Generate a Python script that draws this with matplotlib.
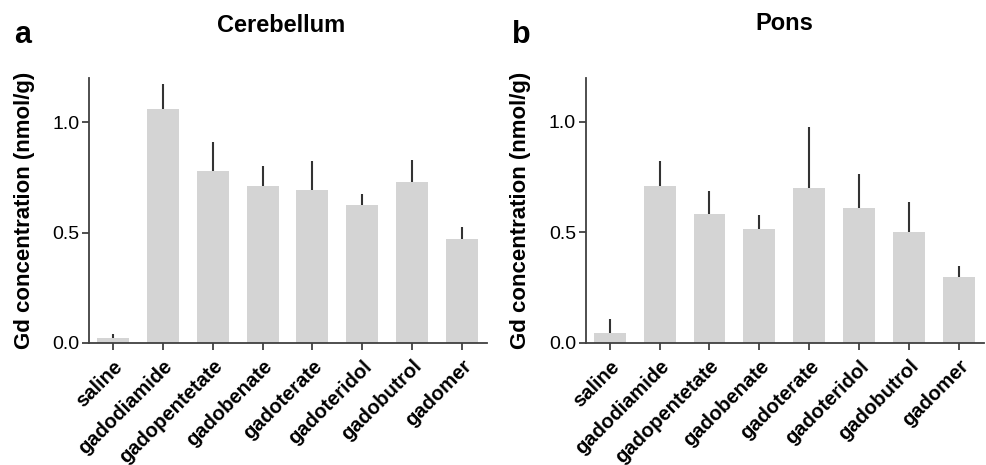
import matplotlib.pyplot as plt
import numpy as np

agents = ['saline', 'gadodiamide', 'gadopentetate', 'gadobenate',
          'gadoterate', 'gadoteridol', 'gadobutrol', 'gadomer']

# Gd concentration (nmol/g), mean and upper SD
cereb_mean = [0.020, 1.061, 0.780, 0.709, 0.695, 0.625, 0.729, 0.471]
cereb_sd = [0.018, 0.115, 0.132, 0.094, 0.128, 0.052, 0.101, 0.054]
pons_mean = [0.045, 0.709, 0.582, 0.514, 0.700, 0.611, 0.501, 0.299]
pons_sd = [0.062, 0.115, 0.104, 0.063, 0.276, 0.152, 0.134, 0.049]

plt.rcParams['font.family'] = ['Liberation Sans', 'DejaVu Sans']
axcol = '#404040'

fig = plt.figure(figsize=(9.87, 4.65), dpi=100)
ax1 = fig.add_axes([0.0902, 0.263, 0.4032, 0.5686])
ax2 = fig.add_axes([0.5934, 0.263, 0.4036, 0.5700])

for ax, m, sd in [(ax1, cereb_mean, cereb_sd), (ax2, pons_mean, pons_sd)]:
    x = np.arange(len(agents))
    ax.bar(x, m, width=0.64, color='#d4d4d4', zorder=2)
    ax.errorbar(x, m, yerr=[np.zeros(len(sd)), sd], fmt='none',
                ecolor='#333333', elinewidth=1.5, capsize=0, zorder=3)
    ax.set_xlim(-0.48, 7.5)
    ax.set_ylim(0, 1.2)
    ax.set_yticks([0.0, 0.5, 1.0])
    ax.set_yticklabels(['0.0', '0.5', '1.0'], fontsize=14)
    ax.set_xticks(x)
    ax.set_xticklabels(agents, rotation=45, ha='right', va='top',
                       rotation_mode='anchor', fontsize=14.5, fontweight='bold')
    for s in ['top', 'right']:
        ax.spines[s].set_visible(False)
    for s in ['left', 'bottom']:
        ax.spines[s].set_color(axcol)
        ax.spines[s].set_linewidth(1.3)
    ax.tick_params(axis='both', direction='out', length=5, width=1.3,
                   color=axcol, labelcolor='black', pad=2)
    ax.tick_params(axis='x', pad=5)
    ax.set_ylabel('Gd concentration (nmol/g)', fontsize=16, fontweight='bold')
    ax.yaxis.set_label_coords(-0.137, 0.5)

fig.text(281 / 987, 1 - 32 / 465, 'Cerebellum', fontsize=17,
         fontweight='bold', ha='center', va='baseline')
fig.text(784 / 987, 1 - 30 / 465, 'Pons', fontsize=17,
         fontweight='bold', ha='center', va='baseline')
fig.text(14 / 987, 1 - 43 / 465, 'a', fontsize=22, fontweight='bold',
         ha='left', va='baseline')
fig.text(512 / 987, 1 - 43 / 465, 'b', fontsize=22, fontweight='bold',
         ha='left', va='baseline')

fig.savefig('out.png', dpi=100)
